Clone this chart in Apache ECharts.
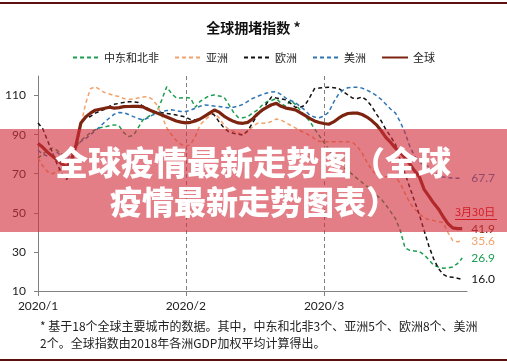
<!DOCTYPE html>
<html><head><meta charset="utf-8">
<script src="https://cdn.jsdelivr.net/npm/echarts@6/dist/echarts.min.js"></script>
<style>html,body{margin:0;padding:0;background:#fff}#c{width:507px;height:363px}</style>
</head><body><div id="c"></div>
<script>
const tickLabels = ['2020/1', '2020/2', '2020/3'];
const monthStartIdx = [0, 31, 60];
const seriesNames = ['中东和北非', '亚洲', '欧洲', '美洲', '全球'];
const yTicks = [10, 30, 50, 70, 90, 110];

const mena = [78,80,82,83,82,80,79,81,84,87,89,91,92.5,93.5,94,94.5,95,94.5,91,89,89.5,93.5,97.5,99,100.5,102,108,114.5,111,108.8,
  108.7,109,108.7,104,107,108.5,110,110.3,109.8,109.3,105.5,101.5,98.8,98.6,99.2,101,102.5,105,106.8,107.5,108.5,106,104.5,107.5,105.5,102.5,99.5,97,93,89.5,
  86,82.5,79,76,73.6,71.5,69.5,67.5,65.5,63.5,61.5,59,57,54,50.5,47,41,32,30.8,30.5,30.2,28.5,26,23.2,22.3,21.6,21.8,22.3,24,26.9];
const asia = [78,74,71,70,71,73,75,77,82,95,106,113.5,114.5,113,111.5,110.8,110,109.5,108.5,108,108.2,108.7,109.2,109.5,108,105,99.5,93.5,90,87,
  85,84,85,89,95,97.5,99.5,101,98.5,95,92.7,91.7,90.8,90,91.5,94,95.8,95.8,95.8,96.8,98,97.5,96,94.8,93.5,92,91,89.5,88,86.5,
  86.4,86.4,86.4,86.4,86.4,86.4,86,84,80.5,76,72,69.5,68.5,68.5,68.5,68.5,65,60,55,52,49.5,47.5,46.5,46,45.5,45,40,35.8,35.2,35.6];
const europe = [96,93,87,81,75,70,67,72,85,96,98.5,99.3,101,102,103,104.5,105.5,106,106.5,106.8,106.8,106.5,104.5,103.5,102,101.5,101.2,100.8,100.5,100,
  99.5,99,97.7,97.5,98.2,99.5,101.5,100,96.5,93.5,91.5,90.7,90.2,89.8,92,96,100,102,106,109.3,108.7,108.3,107.8,106,104,104,105,109,113.5,113.8,
  114.1,114.2,114,113.8,112,110.4,108.7,108.5,109.3,107.5,104.5,100.5,97,92.5,89,85,77,70,63,56,49,41,33,26.5,21.5,18.5,17.2,17,16.5,16.0];
const americas = [82,80,79,80,81,79,77,80,84,86.5,88,90,92,94,96.5,98.5,100.5,101.3,101.2,100.3,99.2,98.3,97.5,98.5,100,101,101.8,102.3,102.7,102.3,
  101.8,101.8,102.5,103.5,104.5,105.2,105,104.6,104.4,104,103.8,104,104.6,105.5,107,108.5,109.5,110.5,111.3,111.8,112,110.5,108.7,107.5,106.3,104.5,102.5,100,99,98.6,
  99.5,101.5,106.5,110.5,112.8,114,114.3,114.3,113.8,112.8,111.5,110,108,105.5,103,101,96.5,91,84,79,76,74.5,73.6,71,68.7,68.3,68,67.8,67.7,67.7];
const globalIdx = [85.5,83.5,81,79,77,75,73.5,77,85,96,99,101,102.5,103,103.5,104,103.6,103.8,104.3,104.4,104.5,104.5,104.2,103,102,101,100,99,98,97,
  96.4,96,96.3,97,98,99.5,101,102.6,101.5,99.5,98,96.8,96,95.8,96.3,98,100.5,102.5,104,105.3,106,104.5,103.6,103.2,102.7,101.3,99.8,98.3,97,96.2,
  95.7,95.3,96.5,98.3,99.8,100.8,101,101,100.3,99,97.2,95,92,88.5,86,83,81,78,75,71.5,68.5,62,58.5,55,52,48,44.5,42.3,41.9,41.9];

const monthDays = [31, 29, 31];
const categories = [];
monthDays.forEach((n, m) => { for (let d = 1; d <= n; d++) categories.push('2020/' + (m + 1) + '/' + d); });

const colors = ['#1b9e4f', '#f2a26a', '#111111', '#2e75b6', '#7d2410'];
const dataSets = [mena, asia, europe, americas, globalIdx];

const chart = echarts.init(document.getElementById('c'), null, { renderer: 'canvas' });
const cjk = '"Noto Sans CJK SC", sans-serif';
const lat = 'Lato, "Liberation Sans", sans-serif';

const series = dataSets.map((d, k) => ({
  name: seriesNames[k],
  type: 'line',
  data: d,
  symbol: 'none',
  smooth: false,
  z: k === 4 ? 5 : 3,
  lineStyle: k === 4 ? { color: colors[k], width: 3.2, type: 'solid' } : { color: colors[k], width: 1.5, type: [4, 3] },
  itemStyle: { color: colors[k] },
  endLabel: {
    show: true,
    distance: 9,
    formatter: p => Number(p.value).toFixed(1),
    color: k === 2 ? '#111' : colors[k],
    fontSize: 12,
    fontFamily: lat
  }
}));

chart.setOption({
  animation: false,
  backgroundColor: '#ffffff',
  title: {
    text: '全球拥堵指数 *', left: 'center', top: 16,
    textStyle: { fontSize: 14, fontWeight: 'bold', color: '#111', fontFamily: cjk }
  },
  legend: {
    data: seriesNames, top: 47, left: 'center',
    itemWidth: 26, itemHeight: 10, itemGap: 15,
    itemStyle: { opacity: 0 },
    textStyle: { fontSize: 11, color: '#222', fontFamily: cjk }
  },
  grid: { left: 38, right: 40, top: 76, bottom: 72, containLabel: false, outerBoundsMode: 'none' },
  xAxis: {
    type: 'category', data: categories, boundaryGap: false,
    axisLine: { lineStyle: { color: '#808080', width: 1 } },
    axisTick: { show: true, length: 5, interval: (i) => monthStartIdx.includes(i), lineStyle: { color: '#808080' } },
    axisLabel: {
      interval: (i) => monthStartIdx.includes(i),
      formatter: (v, i) => { const j = monthStartIdx.indexOf(i); return j >= 0 ? tickLabels[j] : ''; },
      fontSize: 12, color: '#222', fontFamily: lat, margin: 9
    },
    splitLine: { show: true, interval: (i) => i === 31 || i === 60, lineStyle: { color: '#808080', type: [4, 3], width: 1 } }
  },
  yAxis: {
    type: 'value', min: 10, max: 120, interval: 20,
    axisLine: { show: true, lineStyle: { color: '#808080', width: 1 } },
    axisTick: { show: true, length: 4, customValues: yTicks, lineStyle: { color: '#808080' } },
    axisLabel: { customValues: yTicks, fontSize: 12, color: '#222', fontFamily: lat, margin: 12 },
    splitLine: { show: false }
  },
  series: series,
  graphic: [
    { type: 'rect', z: 1, shape: { x: 0, y: 2, width: 507, height: 2 }, style: { fill: '#5e0f0f' } },
    { type: 'rect', z: 1, shape: { x: 0, y: 359, width: 507, height: 2 }, style: { fill: '#5e0f0f' } },
    { type: 'text', z: 1, x: 40, y: 326, style: { text: '* 基于18个全球主要城市的数据。其中，中东和北非3个、亚洲5个、欧洲8个、美洲', fill: '#222', font: '12px ' + cjk, verticalAlign: 'middle' } },
    { type: 'text', z: 1, x: 40, y: 343, style: { text: '2个。全球指数由2018年各洲GDP加权平均计算得出。', fill: '#222', font: '12px ' + cjk, verticalAlign: 'middle' } },
    { type: 'text', z: 10, x: 455, y: 212, style: { text: '3月30日', fill: '#d40000', font: '11px ' + cjk, verticalAlign: 'middle' } },
    { type: 'rect', z: 10, shape: { x: 455, y: 219, width: 42, height: 1 }, style: { fill: '#d40000' } },
    { type: 'rect', z: 100, shape: { x: 0, y: 129, width: 507, height: 103 }, style: { fill: 'rgba(210,45,60,0.62)' } },
    { type: 'text', z: 101, x: 253, y: 162, style: { text: '全球疫情最新走势图（全球', fill: '#ffffff', font: '900 33px ' + cjk, align: 'center', verticalAlign: 'middle' } },
    { type: 'text', z: 101, x: 254, y: 202, style: { text: '疫情最新走势图表）', fill: '#ffffff', font: '900 32px ' + cjk, align: 'center', verticalAlign: 'middle' } }
  ]
});
</script>
</body></html>
